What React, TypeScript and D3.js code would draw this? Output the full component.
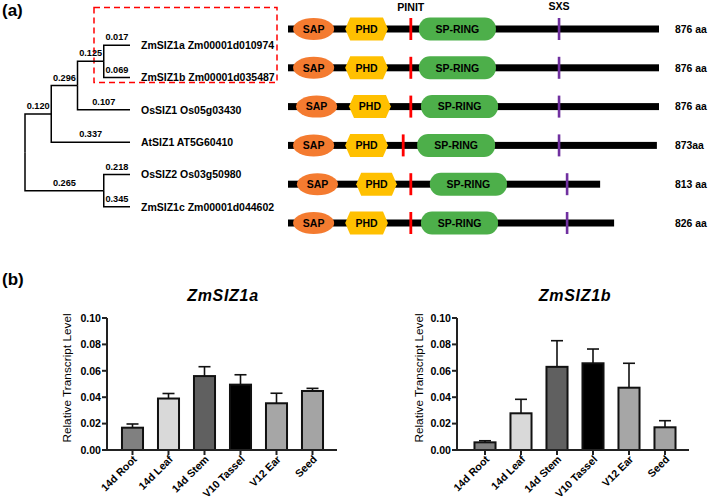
import React from "react";
import * as d3 from "d3";

const FONT = "'Liberation Sans', Arial, Helvetica, sans-serif";

// ---------- Panel (a) data ----------
const leafNames = [
  "ZmSIZ1a Zm00001d010974",
  "ZmSIZ1b Zm00001d035487",
  "OsSIZ1 Os05g03430",
  "AtSIZ1 AT5G60410",
  "OsSIZ2 Os03g50980",
  "ZmSIZ1c Zm00001d044602",
];
const leafBranch = [0.017, 0.069, 0.107, 0.337, 0.218, 0.345];
const innerBranch = { n1: 0.12, n2: 0.296, n3: 0.125, n4: 0.265 };

const lengthLabels = ["876 aa", "876 aa", "876 aa", "873aa", "813 aa", "826 aa"];
const backboneEnd = [876, 876, 876, 871, 737, 770];
const sapStart = [12, 12, 19, 12, 21, 12];
const sapEnd = [109, 109, 116, 109, 118, 109];
const phdStart = [135, 135, 144, 135, 161, 135];
const phdEnd = [236, 236, 243, 236, 257, 236];
const pinitPos = [290, 290, 290, 272, 290, 290];
const ringStart = [309, 309, 314, 305, 335, 314];
const ringEnd = [491, 491, 496, 489, 517, 496];
const sxsPos = [640, 640, 640, 640, 659, 659];

// ---------- Panel (b) data ----------
const tissues = ["14d Root", "14d Leaf", "14d Stem", "V10 Tassel", "V12 Ear", "Seed"];
const barColors = ["#808080", "#d9d9d9", "#606060", "#000000", "#a6a6a6", "#a4a4a4"];
const siz1aMean = [0.0169, 0.039, 0.056, 0.0495, 0.0354, 0.0447];
const siz1aErr = [0.0028, 0.0038, 0.0071, 0.0075, 0.0076, 0.002];
const siz1bMean = [0.0058, 0.0278, 0.063, 0.0657, 0.0472, 0.0172];
const siz1bErr = [0.0012, 0.0106, 0.0198, 0.0108, 0.0185, 0.005];
const yTicks = [0, 0.02, 0.04, 0.06, 0.08, 0.1];

type TNode = { name: string; len?: number; children?: TNode[] };

const treeSpec: TNode = {
  name: "root",
  children: [
    {
      name: "n1",
      len: innerBranch.n1,
      children: [
        {
          name: "n2",
          len: innerBranch.n2,
          children: [
            {
              name: "n3",
              len: innerBranch.n3,
              children: [
                { name: leafNames[0], len: leafBranch[0] },
                { name: leafNames[1], len: leafBranch[1] },
              ],
            },
            { name: leafNames[2], len: leafBranch[2] },
          ],
        },
        { name: leafNames[3], len: leafBranch[3] },
      ],
    },
    {
      name: "n4",
      len: innerBranch.n4,
      children: [
        { name: leafNames[4], len: leafBranch[4] },
        { name: leafNames[5], len: leafBranch[5] },
      ],
    },
  ],
};

const TREE_X0 = 25;
const TREE_W = 105;
const ROW_Y0 = 29;
const ROW_H = 194;

function Tree() {
  const root = d3.hierarchy<TNode>(treeSpec);
  d3.cluster<TNode>().size([ROW_H, TREE_W]).separation(() => 1)(root);
  const nodes = root.descendants() as any[];
  const px = (n: any) => TREE_X0 + n.y;
  const py = (n: any) => ROW_Y0 + n.x;
  return (
    <g>
      {nodes
        .filter((n) => n.parent)
        .map((n, i) => {
          const p = n.parent;
          const d = `M${px(p)},${py(p)}V${py(n)}H${px(n)}`;
          return (
            <g key={i}>
              <path d={d} fill="none" stroke="#000" strokeWidth={1.5} />
              <text
                x={(px(p) + px(n)) / 2}
                y={py(n) - 5}
                textAnchor="middle"
                fontSize={9.2}
                fontWeight="bold"
                fontFamily={FONT}
              >
                {n.data.len.toFixed(3)}
              </text>
            </g>
          );
        })}
      {nodes
        .filter((n) => !n.children)
        .map((n, i) => (
          <text
            key={"l" + i}
            x={px(n) + 11}
            y={py(n)}
            dy="0.35em"
            fontSize={10.5}
            fontWeight="bold"
            fontFamily={FONT}
          >
            {n.data.name}
          </text>
        ))}
    </g>
  );
}

function Domains() {
  const x = d3.scaleLinear().domain([0, 876]).range([288, 659]);
  const row = d3.scaleLinear().domain([0, 5]).range([ROW_Y0, ROW_Y0 + ROW_H]);
  const hh = 11.5;
  return (
    <g fontFamily={FONT} fontWeight="bold">
      <text x={x(pinitPos[0])} y={11} textAnchor="middle" fontSize={10.6}>PINIT</text>
      <text x={x(sxsPos[0])} y={10} textAnchor="middle" fontSize={10.6}>SXS</text>
      {lengthLabels.map((lab, i) => {
        const cy = row(i);
        const s = x(sapStart[i]), se = x(sapEnd[i]);
        const p0 = x(phdStart[i]), p1 = x(phdEnd[i]);
        const r0 = x(ringStart[i]), r1 = x(ringEnd[i]);
        const hex = [
          [p0, cy],
          [p0 + 5, cy - hh],
          [p1 - 5, cy - hh],
          [p1, cy],
          [p1 - 5, cy + hh],
          [p0 + 5, cy + hh],
        ]
          .map((q) => q.join(","))
          .join(" ");
        return (
          <g key={i}>
            <rect x={x(0)} y={cy - 3.5} width={x(backboneEnd[i]) - x(0)} height={7} fill="#000" />
            <ellipse cx={(s + se) / 2} cy={cy} rx={(se - s) / 2} ry={11} fill="#F47B30" />
            <text x={(s + se) / 2} y={cy} dy="0.36em" textAnchor="middle" fontSize={10.5}>SAP</text>
            <polygon points={hex} fill="#FFC000" />
            <text x={(p0 + p1) / 2} y={cy} dy="0.36em" textAnchor="middle" fontSize={10.5}>PHD</text>
            <rect x={x(pinitPos[i]) - 1.4} y={cy - 11} width={2.8} height={22} fill="#FF0000" />
            <rect x={r0} y={cy - 11.5} width={r1 - r0} height={23} rx={11} fill="#4DAF4A" />
            <text x={(r0 + r1) / 2} y={cy} dy="0.36em" textAnchor="middle" fontSize={10.5}>SP-RING</text>
            <rect x={x(sxsPos[i]) - 1.3} y={cy - 11} width={2.6} height={22} fill="#7030A0" />
            <text x={675} y={cy} dy="0.36em" fontSize={10.4}>{lab}</text>
          </g>
        );
      })}
    </g>
  );
}

type BarProps = {
  title: string;
  means: number[];
  errs: number[];
  axisLeft: number;
  axisRight: number;
  bandStart: number;
  bandEnd: number;
  titleX: number;
  ylabelX: number;
};

function BarPanel(p: BarProps) {
  const y = d3.scaleLinear().domain([0, 0.1]).range([450, 318]);
  const x = d3
    .scaleBand<string>()
    .domain(tissues)
    .range([p.bandStart, p.bandEnd])
    .paddingInner(0.36)
    .paddingOuter(0.18);
  const bw = x.bandwidth();
  const fmt = d3.format(".2f");
  return (
    <g fontFamily={FONT}>
      <text
        x={p.titleX}
        y={301}
        textAnchor="middle"
        fontSize={16}
        fontWeight="bold"
        fontStyle="italic"
        letterSpacing={0.7}
      >
        {p.title}
      </text>
      <text
        transform={`translate(${p.ylabelX},${378}) rotate(-90)`}
        textAnchor="middle"
        dy="0.35em"
        fontSize={11.8}
      >
        Relative Transcript Level
      </text>
      {tissues.map((t, i) => {
        const bx = x(t)!;
        const cx = bx + bw / 2;
        const top = y(p.means[i]);
        const et = y(p.means[i] + p.errs[i]);
        return (
          <g key={t}>
            <line x1={cx} x2={cx} y1={top} y2={et} stroke="#111" strokeWidth={1.6} />
            <line x1={cx - 6} x2={cx + 6} y1={et} y2={et} stroke="#111" strokeWidth={1.6} />
            <rect
              x={bx + 1}
              y={top}
              width={bw - 2}
              height={y(0) - top}
              fill={barColors[i]}
              stroke="#111"
              strokeWidth={2}
            />
          </g>
        );
      })}
      {/* y axis */}
      <line x1={p.axisLeft} x2={p.axisLeft} y1={y(0.1)} y2={y(0)} stroke="#222" strokeWidth={2} />
      {yTicks.map((t) => (
        <g key={t}>
          <line x1={p.axisLeft - 5} x2={p.axisLeft} y1={y(t)} y2={y(t)} stroke="#222" strokeWidth={2} />
          <text
            x={p.axisLeft - 6}
            y={y(t)}
            dy="0.36em"
            textAnchor="end"
            fontSize={10.6}
            fontWeight="bold"
          >
            {fmt(t)}
          </text>
        </g>
      ))}
      {/* x axis */}
      <line x1={p.axisLeft} x2={p.axisRight} y1={y(0)} y2={y(0)} stroke="#222" strokeWidth={2} />
      {tissues.map((t) => {
        const cx = x(t)! + bw / 2;
        return (
          <g key={"t" + t}>
            <line x1={cx} x2={cx} y1={y(0)} y2={y(0) + 5} stroke="#222" strokeWidth={2} />
            <text
              transform={`translate(${cx + 5},${y(0) + 10}) rotate(-45)`}
              textAnchor="end"
              fontSize={10.6}
              fontWeight="bold"
            >
              {t}
            </text>
          </g>
        );
      })}
    </g>
  );
}

export default function App() {
  return (
    <div style={{ position: "absolute", left: 0, top: 0 }}>
      <svg width={709} height={502} style={{ display: "block", background: "#fff" }}>
        <text x={2} y={16} fontSize={17} fontWeight="bold" fontFamily={FONT}>(a)</text>
        <text x={2} y={285} fontSize={17} fontWeight="bold" fontFamily={FONT}>(b)</text>
        <rect
          x={94}
          y={7.5}
          width={183}
          height={75}
          fill="none"
          stroke="#FF0000"
          strokeWidth={1.5}
          strokeDasharray="6,4"
        />
        <Tree />
        <Domains />
        <BarPanel
          title="ZmSIZ1a"
          means={siz1aMean}
          errs={siz1aErr}
          axisLeft={107}
          axisRight={337}
          bandStart={114.5}
          bandEnd={330.5}
          titleX={223}
          ylabelX={67}
        />
        <BarPanel
          title="ZmSIZ1b"
          means={siz1bMean}
          errs={siz1bErr}
          axisLeft={457}
          axisRight={689}
          bandStart={467}
          bandEnd={683}
          titleX={575}
          ylabelX={419}
        />
      </svg>
    </div>
  );
}
